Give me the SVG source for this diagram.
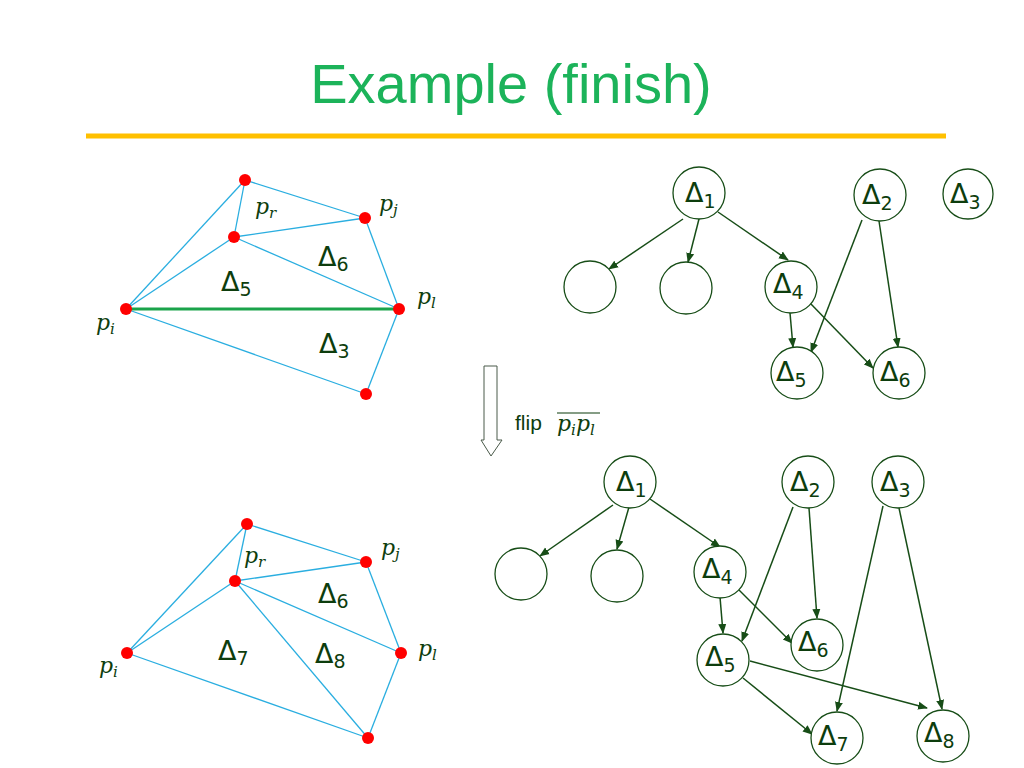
<svg xmlns="http://www.w3.org/2000/svg" width="1024" height="768" viewBox="0 0 1024 768">
<defs>
<marker id="ah" markerUnits="userSpaceOnUse" markerWidth="10" markerHeight="10" viewBox="0 0 10 10" refX="9" refY="5" orient="auto">
<path d="M0,1 L10,5 L0,9 z" fill="#174d17"/>
</marker>
<style>
.tri{stroke:#2aaee0;stroke-width:1.3;fill:none}
.pt{fill:#ff0000}
.nd{fill:#fff;stroke:#174d17;stroke-width:1.3}
.ed{stroke:#174d17;stroke-width:1.5;fill:none;marker-end:url(#ah)}
.dl{font-family:"DejaVu Sans","Noto Sans",sans-serif;font-size:27px;fill:#0d3d0d}
.sb{font-size:19px}
.pl{font-family:"DejaVu Serif","Liberation Serif",serif;font-style:italic;font-size:22px;fill:#0d3d0d}
.ps{font-size:15px}
</style>
</defs>
<rect width="1024" height="768" fill="#fff"/>
<text x="511" y="103" text-anchor="middle" font-family="Liberation Sans, Arial, sans-serif" font-size="56" fill="#1cb35a">Example (finish)</text>
<line x1="86" y1="136" x2="946" y2="136" stroke="#ffc000" stroke-width="5"/>

<g id="mesh-before">
<line class="tri" x1="245" y1="180" x2="365" y2="218"/>
<line class="tri" x1="245" y1="180" x2="234" y2="237"/>
<line class="tri" x1="245" y1="180" x2="126" y2="309"/>
<line class="tri" x1="234" y1="237" x2="365" y2="218"/>
<line class="tri" x1="234" y1="237" x2="126" y2="309"/>
<line class="tri" x1="234" y1="237" x2="399" y2="309"/>
<line class="tri" x1="365" y1="218" x2="399" y2="309"/>
<line class="tri" x1="126" y1="309" x2="366" y2="394"/>
<line class="tri" x1="399" y1="309" x2="366" y2="394"/>
<line x1="126" y1="309" x2="399" y2="309" stroke="#1aa34a" stroke-width="3"/>
<circle class="pt" cx="245" cy="180" r="6"/>
<circle class="pt" cx="234" cy="237" r="6"/>
<circle class="pt" cx="365" cy="218" r="6"/>
<circle class="pt" cx="126" cy="309" r="6"/>
<circle class="pt" cx="399" cy="309" r="6"/>
<circle class="pt" cx="366" cy="394" r="6"/>
<text class="pl" x="255" y="214">p<tspan class="ps" dy="4">r</tspan></text>
<text class="pl" x="379" y="211">p<tspan class="ps" dy="4">j</tspan></text>
<text class="pl" x="417" y="304">p<tspan class="ps" dy="4">l</tspan></text>
<text class="pl" x="96" y="330">p<tspan class="ps" dy="4">i</tspan></text>
<text class="dl" x="221" y="291">Δ<tspan class="sb" dy="5">5</tspan></text>
<text class="dl" x="318" y="266">Δ<tspan class="sb" dy="5">6</tspan></text>
<text class="dl" x="319" y="353">Δ<tspan class="sb" dy="5">3</tspan></text>
</g>

<g id="mesh-after">
<line class="tri" x1="247" y1="524" x2="366" y2="562"/>
<line class="tri" x1="247" y1="524" x2="235" y2="581"/>
<line class="tri" x1="247" y1="524" x2="127" y2="653"/>
<line class="tri" x1="235" y1="581" x2="366" y2="562"/>
<line class="tri" x1="235" y1="581" x2="127" y2="653"/>
<line class="tri" x1="235" y1="581" x2="401" y2="653"/>
<line class="tri" x1="235" y1="581" x2="368" y2="738"/>
<line class="tri" x1="366" y1="562" x2="401" y2="653"/>
<line class="tri" x1="127" y1="653" x2="368" y2="738"/>
<line class="tri" x1="401" y1="653" x2="368" y2="738"/>
<circle class="pt" cx="247" cy="524" r="6"/>
<circle class="pt" cx="235" cy="581" r="6"/>
<circle class="pt" cx="366" cy="562" r="6"/>
<circle class="pt" cx="127" cy="653" r="6"/>
<circle class="pt" cx="401" cy="653" r="6"/>
<circle class="pt" cx="368" cy="738" r="6"/>
<text class="pl" x="244" y="563">p<tspan class="ps" dy="4">r</tspan></text>
<text class="pl" x="381" y="555">p<tspan class="ps" dy="4">j</tspan></text>
<text class="pl" x="418" y="656">p<tspan class="ps" dy="4">l</tspan></text>
<text class="pl" x="99" y="673">p<tspan class="ps" dy="4">i</tspan></text>
<text class="dl" x="318" y="603">Δ<tspan class="sb" dy="5">6</tspan></text>
<text class="dl" x="218" y="660">Δ<tspan class="sb" dy="5">7</tspan></text>
<text class="dl" x="315" y="663">Δ<tspan class="sb" dy="5">8</tspan></text>
</g>

<g id="flip-arrow">
<path d="M484,366 H497 V440 H502 L491,456 L481,440 H484 Z" fill="#fff" stroke="#4a5a4a" stroke-width="1"/>
<text x="515" y="430" font-family="Liberation Sans, Arial, sans-serif" font-size="21" fill="#0d3d0d">flip</text>
<text class="pl" x="557" y="431">p<tspan class="ps" dy="4">i</tspan><tspan dy="-4">p</tspan><tspan class="ps" dy="4">l</tspan></text>
<line x1="557" y1="413" x2="600" y2="413" stroke="#0d3d0d" stroke-width="1.2"/>
</g>

<g id="connectors">
<line class="ed" x1="683" y1="219" x2="609" y2="269"/>
<line class="ed" x1="699" y1="219" x2="688" y2="262"/>
<line class="ed" x1="718" y1="212" x2="788" y2="260"/>
<line class="ed" x1="790" y1="313" x2="793" y2="347"/>
<line class="ed" x1="810" y1="303" x2="873" y2="368"/>
<line class="ed" x1="862" y1="220" x2="811" y2="352"/>
<line class="ed" x1="879" y1="221" x2="898" y2="347"/>

<line class="ed" x1="613" y1="505" x2="540" y2="556"/>
<line class="ed" x1="629" y1="507" x2="617" y2="549"/>
<line class="ed" x1="650" y1="499" x2="720" y2="547"/>
<line class="ed" x1="720" y1="597" x2="723" y2="633"/>
<line class="ed" x1="739" y1="590" x2="792" y2="643"/>
<line class="ed" x1="793" y1="507" x2="742" y2="641"/>
<line class="ed" x1="809" y1="508" x2="817" y2="618"/>
<line class="ed" x1="883" y1="506" x2="837" y2="711"/>
<line class="ed" x1="899" y1="508" x2="942" y2="709"/>
<line class="ed" x1="750" y1="661" x2="927" y2="708"/>
<line class="ed" x1="743" y1="678" x2="812" y2="734"/>
</g>

<g id="t1-d1"><circle class="nd" cx="699" cy="193" r="26"/><text class="dl" x="685" y="202">Δ<tspan class="sb" dy="6">1</tspan></text></g>
<g id="t1-d2"><circle class="nd" cx="880" cy="195" r="26"/><text class="dl" x="862" y="204">Δ<tspan class="sb" dy="6">2</tspan></text></g>
<g id="t1-d3"><circle class="nd" cx="968" cy="194" r="25"/><text class="dl" x="950" y="203">Δ<tspan class="sb" dy="6">3</tspan></text></g>
<g id="t1-e1"><circle class="nd" cx="590" cy="287" r="26"/></g>
<g id="t1-e2"><circle class="nd" cx="686" cy="288" r="26"/></g>
<g id="t1-d4"><circle class="nd" cx="791" cy="287" r="26"/><text class="dl" x="773" y="293">Δ<tspan class="sb" dy="6">4</tspan></text></g>
<g id="t1-d5"><circle class="nd" cx="797" cy="373" r="26"/><text class="dl" x="776" y="381">Δ<tspan class="sb" dy="6">5</tspan></text></g>
<g id="t1-d6"><circle class="nd" cx="899" cy="373" r="26"/><text class="dl" x="880" y="381">Δ<tspan class="sb" dy="6">6</tspan></text></g>

<g id="t2-d1"><circle class="nd" cx="630" cy="482" r="26"/><text class="dl" x="616" y="491">Δ<tspan class="sb" dy="6">1</tspan></text></g>
<g id="t2-d2"><circle class="nd" cx="808" cy="482" r="26"/><text class="dl" x="790" y="491">Δ<tspan class="sb" dy="6">2</tspan></text></g>
<g id="t2-d3"><circle class="nd" cx="898" cy="482" r="26"/><text class="dl" x="880" y="491">Δ<tspan class="sb" dy="6">3</tspan></text></g>
<g id="t2-e1"><circle class="nd" cx="521" cy="574" r="26"/></g>
<g id="t2-e2"><circle class="nd" cx="617" cy="576" r="26"/></g>
<g id="t2-d4"><circle class="nd" cx="720" cy="572" r="26"/><text class="dl" x="702" y="578">Δ<tspan class="sb" dy="6">4</tspan></text></g>
<g id="t2-d5"><circle class="nd" cx="723" cy="660" r="26"/><text class="dl" x="705" y="666">Δ<tspan class="sb" dy="6">5</tspan></text></g>
<g id="t2-d6"><circle class="nd" cx="817" cy="645" r="26"/><text class="dl" x="798" y="651">Δ<tspan class="sb" dy="6">6</tspan></text></g>
<g id="t2-d7"><circle class="nd" cx="837" cy="738" r="26"/><text class="dl" x="818" y="745">Δ<tspan class="sb" dy="6">7</tspan></text></g>
<g id="t2-d8"><circle class="nd" cx="943" cy="736" r="26"/><text class="dl" x="924" y="742">Δ<tspan class="sb" dy="6">8</tspan></text></g>
</svg>
